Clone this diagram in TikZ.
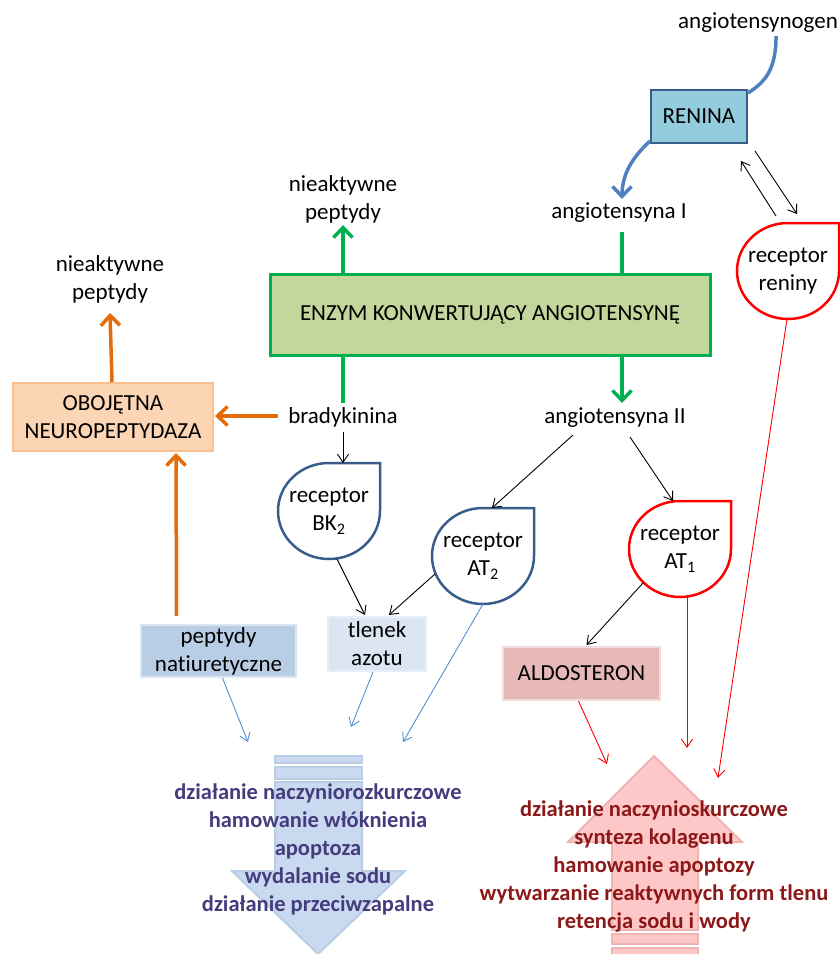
\documentclass[tikz,border=0pt]{standalone}
\usepackage{fontspec}
\setmainfont{Carlito}[Ligatures=NoCommon]
\usetikzlibrary{arrows.meta,calc}
\definecolor{reninafill}{RGB}{147,205,221}
\definecolor{reninadraw}{RGB}{56,93,138}
\definecolor{curveblue}{RGB}{79,129,189}
\definecolor{acefill}{RGB}{195,214,155}
\definecolor{acegreen}{RGB}{0,176,80}
\definecolor{nepfill}{RGB}{252,213,181}
\definecolor{nepdraw}{RGB}{250,192,144}
\definecolor{arrorange}{RGB}{228,108,10}
\definecolor{recblue}{RGB}{56,93,138}
\definecolor{recred}{RGB}{255,0,0}
\definecolor{npfill}{RGB}{185,205,229}
\definecolor{npdraw}{RGB}{220,230,242}
\definecolor{nofill}{RGB}{220,230,242}
\definecolor{nodraw}{RGB}{232,238,246}
\definecolor{aldofill}{RGB}{230,185,184}
\definecolor{aldodraw}{RGB}{242,220,219}
\definecolor{thinblue}{RGB}{85,142,213}
\definecolor{bigbluefill}{RGB}{200,217,240}
\definecolor{bigbluedraw}{RGB}{185,205,229}
\definecolor{bigredfill}{RGB}{255,200,200}
\definecolor{bigreddraw}{RGB}{240,180,180}
\definecolor{bluetext}{RGB}{68,60,125}
\definecolor{redtext}{RGB}{140,25,25}
\newcommand\dropshape[2]{\draw[#1] (#2.east) -- (#2.east |- #2.north) -- (#2.north) arc[start angle=-90,end angle=-360,x radius=51,y radius=48] -- cycle;}
\begin{document}
\begin{tikzpicture}[x=1pt,y=-1pt,
  txt/.style={font=\fontsize{23}{28}\selectfont, align=center, inner sep=0pt},
  box/.style={txt, draw, line width=2pt},
  drop/.style={txt, minimum width=102pt, minimum height=96pt, outer sep=0pt},
  thickarr/.style={line width=3.5pt, -{Straight Barb[length=10pt,width=19pt]}},
  thickline/.style={line width=3.5pt},
  thinarr/.style={line width=0.9pt, -{Straight Barb[length=8pt,width=11pt]}},
  bigtxt/.style={font=\bfseries\fontsize{22.5}{28}\selectfont, align=center, inner sep=0pt}
]
\useasboundingbox (0,0) rectangle (839,954);

% big effect arrows
\fill[bigbluefill, draw=bigbluedraw, line width=2pt] (275,756) rectangle (362,763);
\fill[bigbluefill, draw=bigbluedraw, line width=2pt] (275,767) rectangle (362,779);
\fill[bigbluefill, draw=bigbluedraw, line width=2pt] (275,782) -- (362,782) -- (362,871) -- (405,871) -- (318,954) -- (232,871) -- (275,871) -- cycle;
\fill[bigredfill, draw=bigreddraw, line width=2pt] (654,756) -- (742,842) -- (698,842) -- (698,930) -- (612,930) -- (612,842) -- (568,842) -- cycle;
\fill[bigredfill, draw=bigreddraw, line width=2pt] (612,934) rectangle (698,944);
\fill[bigredfill, draw=bigreddraw, line width=2pt] (612,948) rectangle (698,960);

% nodes
\node[txt, anchor=west] (angen) at (678,23) {angiotensynogen};
\node[box, fill=reninafill, draw=reninadraw, minimum width=96pt, minimum height=53pt] (renina) at (699,116.5) {RENINA};
\node[txt] (ang1) at (619,213) {angiotensyna I};
\node[box, fill=acefill, draw=acegreen, line width=3pt, minimum width=440pt, minimum height=81pt] (ace) at (490,314.5) {ENZYM KONWERTUJĄCY ANGIOTENSYNĘ};
\node[txt] (nieak1) at (343,199) {nieaktywne\\peptydy};
\node[txt] (nieak2) at (110,279) {nieaktywne\\peptydy};
\node[box, fill=nepfill, draw=nepdraw, minimum width=200pt, minimum height=68pt] (nep) at (113,417) {OBOJĘTNA\\NEUROPEPTYDAZA};
\node[txt] (brad) at (343,417) {bradykinina};
\node[txt] (ang2) at (615,418) {angiotensyna II};
\node[drop] (reniny) at (788,271) {receptor\\reniny};
\node[drop] (bk2) at (329,511) {receptor\\BK\textsubscript{2}};
\node[drop] (at2) at (483,556) {receptor\\AT\textsubscript{2}};
\node[drop] (at1) at (680,549) {receptor\\AT\textsubscript{1}};
\dropshape{recred, line width=2.5pt}{reniny}
\dropshape{recblue, line width=2.5pt}{bk2}
\dropshape{recblue, line width=2.5pt}{at2}
\dropshape{recred, line width=2.5pt}{at1}
\node[box, fill=npfill, draw=npdraw, minimum width=155pt, minimum height=52pt] (np) at (218.5,651) {peptydy\\natiuretyczne};
\node[box, fill=nofill, draw=nodraw, minimum width=98pt, minimum height=54pt] (no) at (377,644) {tlenek\\azotu};
\node[box, fill=aldofill, draw=aldodraw, minimum width=157pt, minimum height=53pt] (aldo) at (581.5,673.5) {ALDOSTERON};

\node[bigtxt, text=bluetext] (effdown) at (318,849) {działanie naczyniorozkurczowe\\hamowanie włóknienia\\apoptoza\\wydalanie sodu\\działanie przeciwzapalne};
\node[bigtxt, text=redtext] (effup) at (654,866) {działanie naczynioskurczowe\\synteza kolagenu\\hamowanie apoptozy\\wytwarzanie reaktywnych form tlenu\\retencja sodu i wody};

% free ends
\coordinate (npend) at (248,742);
\coordinate (noend) at (351,727);
\coordinate (at2end) at (403,742);
\coordinate (aldoend) at (607,764);
\coordinate (at1end) at (687,748);
\coordinate (renend) at (718,778);

% blue curves
\draw[thickline, curveblue] ($(angen)+(18,13)$) .. controls (776,70) and (765,82) .. ($(renina.north east)+(0,4)$);
\draw[thickarr, curveblue] ($(renina.south west)+(0,-3)$) .. controls (635,155) and (622,172) .. ($(ang1)+(3,-14)$);

% green
\draw[thickline, acegreen] ($(ang1)+(3,19)$) -- ($(ace.north)+(132,0)$);
\draw[thickarr, acegreen] (ace.north -| nieak1) -- ($(nieak1)+(0,26)$);
\draw[thickline, acegreen] (ace.south -| brad) -- ($(brad)+(0,-14)$);
\draw[thickarr, acegreen] ($(ace.south)+(132,0)$) -- ($(ang2)+(7,-15)$);

% orange
\draw[thickarr, arrorange] ($(brad)+(-65,-1)$) -- ($(nep.east)+(1,-1)$);
\draw[thickarr, arrorange] ($(nep.north)+(-1,0)$) -- ($(nieak2)+(0,34)$);
\draw[thickarr, arrorange] ($(np.north)+(-42,-8)$) -- ($(nep.south)+(63,1)$);

% thin black
\draw[thinarr] ($(brad)+(0,15)$) -- ($(bk2.north)+(14,0)$);
\draw[thinarr] ($(ang2)+(-42,17)$) -- ($(at2.north)+(9,0)$);
\draw[thinarr] ($(ang2)+(15,19)$) -- ($(at1.north)+(-7,0)$);
\draw[thinarr] ($(bk2.south)+(8,0)$) -- ($(no.north)+(-12,-1)$);
\draw[thinarr] ($(at2)+(-48,18)$) -- ($(no.north)+(12,-1)$);
\draw[thinarr] ($(at1)+(-37,34)$) -- ($(aldo.north)+(5,-1)$);
\draw[thinarr] ($(reniny.north)+(-12,-7)$) -- ($(renina.south east)+(-7,17)$);
\draw[thinarr] ($(renina.south east)+(7,7)$) -- ($(reniny.north)+(9,-9)$);

% thin blue
\draw[thinarr, thinblue] ($(np.south)+(4,0)$) -- (npend);
\draw[thinarr, thinblue] ($(no.south)+(-4,0)$) -- (noend);
\draw[thinarr, thinblue] (at2.south) -- (at2end);

% thin red
\draw[thinarr, recred] ($(aldo.south)+(-3,0)$) -- (aldoend);
\draw[thinarr, recred] ($(at1.south)+(7,0)$) -- (at1end);
\draw[thinarr, recred] ($(reniny.south)+(-1,0)$) -- (renend);
\end{tikzpicture}
\end{document}
